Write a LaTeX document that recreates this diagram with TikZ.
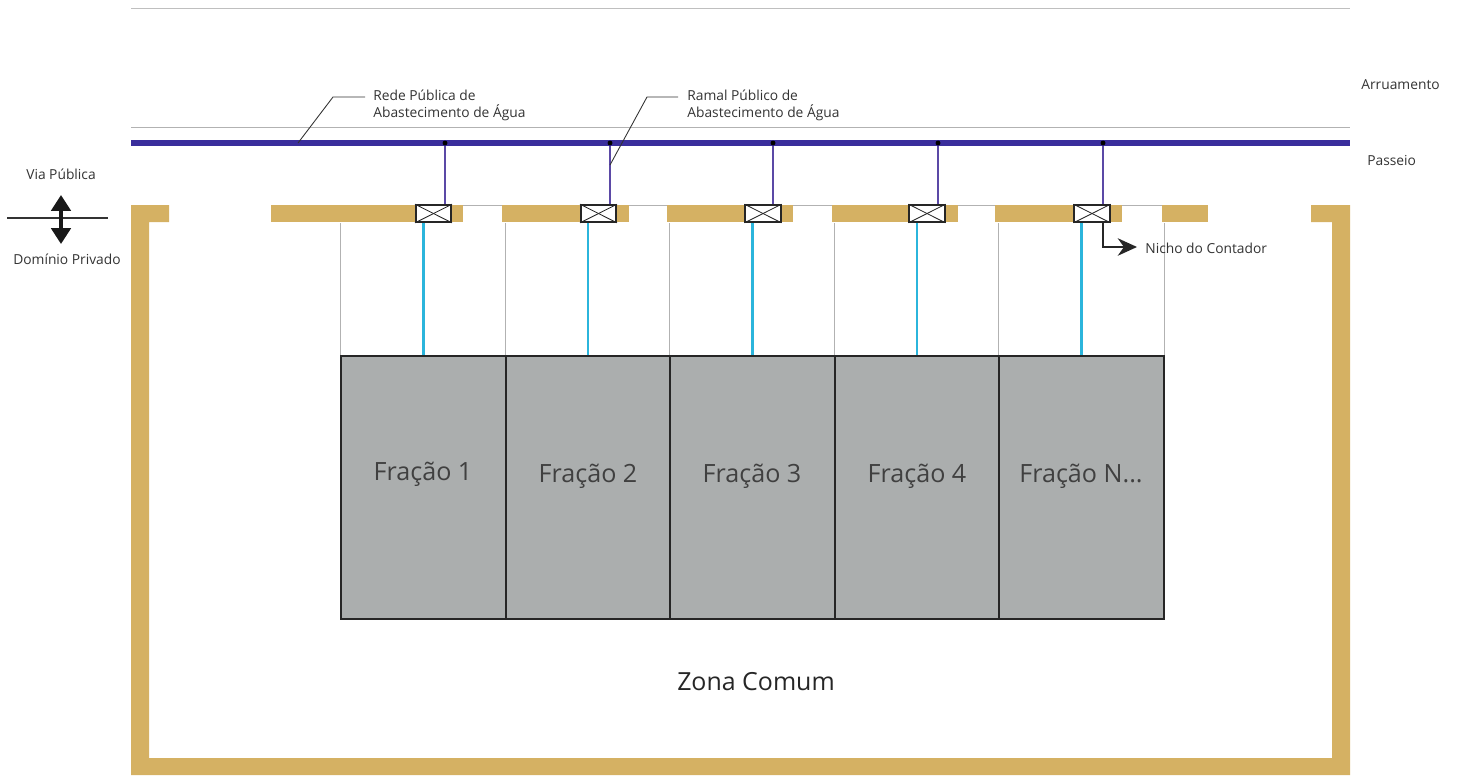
\documentclass[tikz,border=0pt]{standalone}
\usepackage{fontspec}
\setmainfont{Open Sans}
\usetikzlibrary{arrows.meta}
\definecolor{wallcol}{HTML}{D5B163}
\definecolor{mainblue}{HTML}{3A2E9C}
\definecolor{branchcol}{HTML}{5B49A6}
\definecolor{cyancol}{HTML}{2BB5DC}
\definecolor{fraccol}{HTML}{ABAEAE}
\tikzset{
  wall/.style={fill=wallcol},
  fracao/.style={draw=black!85,line width=1pt,fill=fraccol,minimum width=3.29cm,minimum height=5.26cm},
  fractxt/.style={font=\fontsize{14.3}{17}\selectfont,text=black!75},
  nicho/.style={draw=black!85,line width=0.9pt,fill=white,minimum width=0.71cm,minimum height=0.34cm},
  nichox/.style={black!85,line width=0.5pt},
  branch/.style={branchcol,line width=1.3pt},
  cold/.style={cyancol,line width=1.5pt},
  guide/.style={black!30,line width=0.4pt},
  leader/.style={black!80,line width=0.5pt},
  smalltxt/.style={font=\fontsize{7.85}{9.6}\selectfont,text=black!80,align=left},
  junction/.style={circle,fill=black,minimum size=2.8pt}
}
\begin{document}
\begin{tikzpicture}[x=0.02cm,y=0.02cm]
\tikzstyle{every node}+=[inner sep=0pt]
\useasboundingbox (0,0) rectangle (1457,-775);
% top lines
\coordinate (topw) at (131,-8);
\coordinate (tope) at (1350,-8);
\coordinate (kerbw) at (131,-127.5);
\coordinate (kerbe) at (1350,-127.5);
\coordinate (mainw) at (131,-143);
\coordinate (maine) at (1350,-143);
\draw [black!25,line width=0.5pt] (topw) -- (tope);
\draw [black!30,line width=0.5pt] (kerbw) -- (kerbe);
\draw [mainblue,line width=2.9pt] (mainw) -- (maine);
% wall
\fill [wall] (169,-205) -- (131,-205) -- (131,-775) -- (1350,-775) -- (1350,-205) -- (1311,-205) -- (1311,-222) -- (1332,-222) -- (1332,-758) -- (149,-758) -- (149,-222) -- (169,-222) -- cycle;
\draw [guide] (463,-205) -- (1162,-205);
\fill [wall] (271,-205) rectangle (463,-222);
\fill [wall] (502,-205) rectangle (629,-222);
\fill [wall] (667,-205) rectangle (793,-222);
\fill [wall] (832,-205) rectangle (958,-222);
\fill [wall] (995,-205) rectangle (1122,-222);
\fill [wall] (1162,-205) rectangle (1208,-222);
% fractions
\node [fracao] (f1) at (423.5,-487.5) {};
\node [fracao] (f2) at (588,-487.5) {};
\node [fracao] (f3) at (752.5,-487.5) {};
\node [fracao] (f4) at (917,-487.5) {};
\node [fracao] (f5) at (1081.5,-487.5) {};
\node [fractxt] (t1) at (423,-474) {Fração 1};
\node [fractxt] (t2) at (588,-476) {Fração 2};
\node [fractxt] (t3) at (752,-476) {Fração 3};
\node [fractxt] (t4) at (917,-476) {Fração 4};
\node [fractxt] (t5) at (1081,-476) {Fração N...};
% meter niches
\node [nicho] (m1) at (433.5,-213.5) {};
\node [nicho] (m2) at (598.5,-213.5) {};
\node [nicho] (m3) at (763,-213.5) {};
\node [nicho] (m4) at (927,-213.5) {};
\node [nicho] (m5) at (1092,-213.5) {};
\draw [nichox] (m1.north west) -- (m1.south east);
\draw [nichox] (m1.south west) -- (m1.north east);
\draw [nichox] (m2.north west) -- (m2.south east);
\draw [nichox] (m2.south west) -- (m2.north east);
\draw [nichox] (m3.north west) -- (m3.south east);
\draw [nichox] (m3.south west) -- (m3.north east);
\draw [nichox] (m4.north west) -- (m4.south east);
\draw [nichox] (m4.south west) -- (m4.north east);
\draw [nichox] (m5.north west) -- (m5.south east);
\draw [nichox] (m5.south west) -- (m5.north east);
% branches
\node [junction] (j1) at (445,-143) {};
\node [junction] (j2) at (610,-143) {};
\node [junction] (j3) at (773,-143) {};
\node [junction] (j4) at (938,-143) {};
\node [junction] (j5) at (1103,-143) {};
\draw [branch] (j1) -- (j1 |- m1.north);
\draw [branch] (j2) -- (j2 |- m2.north);
\draw [branch] (j3) -- (j3 |- m3.north);
\draw [branch] (j4) -- (j4 |- m4.north);
\draw [branch,line width=0.9pt] (j5) -- (j5 |- m5.north);
% guides
\draw [guide] (f1.north west) -- (f1.north west |- m1.south);
\draw [guide] (f2.north west) -- (f2.north west |- m2.south);
\draw [guide] (f3.north west) -- (f3.north west |- m3.south);
\draw [guide] (f4.north west) -- (f4.north west |- m4.south);
\draw [guide] (f5.north west) -- (f5.north west |- m5.south);
\draw [guide] (f5.north east) -- (f5.north east |- m5.south);
% cold water
\draw [cold] (f1.north) -- (f1.north |- m1.south);
\draw [cold] (f2.north) -- (f2.north |- m2.south);
\draw [cold] (f3.north) -- (f3.north |- m3.south);
\draw [cold] (f4.north) -- (f4.north |- m4.south);
\draw [cold] (f5.north) -- (f5.north |- m5.south);
% labels and leaders
\node [smalltxt,anchor=west] (rede) at (373,-105.5) {Rede Pública de\\Abastecimento de Água};
\node [smalltxt,anchor=west] (ramal) at (687,-105.5) {Ramal Público de\\Abastecimento de Água};
\coordinate (redea) at (298,-143);
\coordinate (redeb) at (333,-97);
\coordinate (redec) at (365,-97);
\coordinate (ramala) at (610,-165);
\coordinate (ramalb) at (647,-97);
\coordinate (ramalc) at (678,-97);
\draw [leader] (redea) -- (redeb) -- (redec);
\draw [leader] (ramala) -- (ramalb) -- (ramalc);
\node [smalltxt,anchor=west] (arr) at (1361,-85) {Arruamento};
\node [smalltxt,anchor=west] (pas) at (1367,-160) {Passeio};
\node [smalltxt,anchor=center] (via) at (61,-174) {Via Pública};
\node [smalltxt,anchor=center] (dom) at (67,-259) {Domínio Privado};
\coordinate (lima) at (7,-218);
\coordinate (limb) at (108,-218);
\coordinate (vupp) at (61,-195);
\coordinate (vlow) at (61,-244);
\draw [leader,line width=0.6pt] (lima) -- (limb);
\draw [{Triangle[length=9pt,width=11pt]}-{Triangle[length=9pt,width=11pt]},black!90,line width=2pt] (vupp) -- (vlow);
\node [smalltxt,anchor=west] (nic) at (1145,-248) {Nicho do Contador};
\coordinate (nicb) at (1137,-247);
\draw [-{Stealth[length=11pt,width=10pt]},black!85,line width=0.8pt] (j5 |- m5.south) |- (nicb);
\node [font=\fontsize{14.2}{17}\selectfont,text=black!85] (zona) at (756,-682) {Zona Comum};
\end{tikzpicture}
\end{document}
